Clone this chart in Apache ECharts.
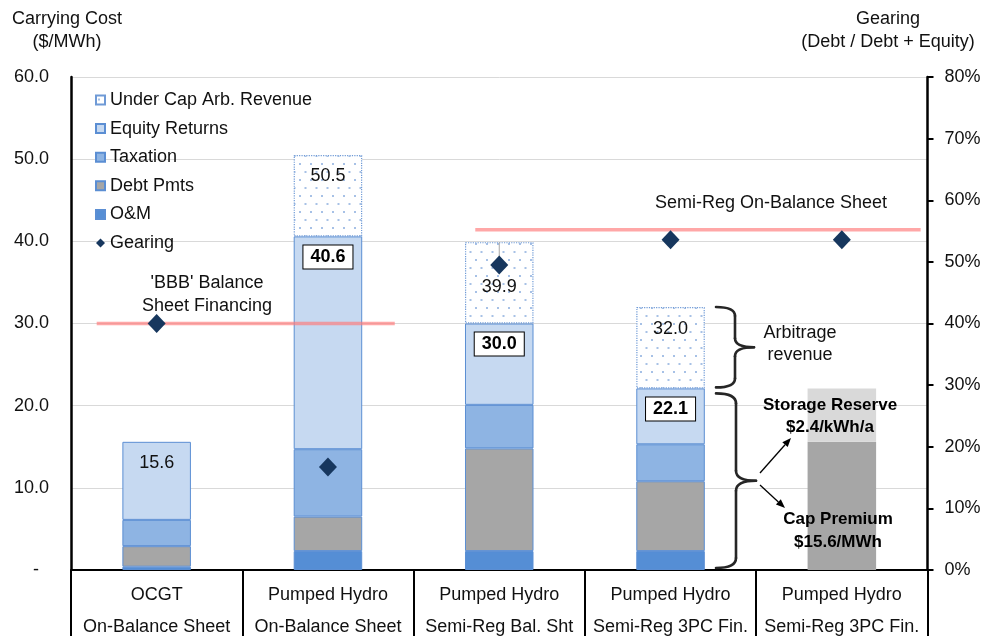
<!DOCTYPE html>
<html>
<head>
<meta charset="utf-8">
<script src="https://cdn.jsdelivr.net/npm/echarts@6/dist/echarts.min.js"></script>
<style>
  html, body { margin: 0; padding: 0; background: #fff; }
  #chart { width: 982px; height: 637px; }
</style>
</head>
<body>
<div id="chart"></div>
<script>
// ---- data ----
const categories = [
  'OCGT\nOn-Balance Sheet',
  'Pumped Hydro\nOn-Balance Sheet',
  'Pumped Hydro\nSemi-Reg Bal. Sht',
  'Pumped Hydro\nSemi-Reg 3PC Fin.',
  'Pumped Hydro\nSemi-Reg 3PC Fin.'
];
const omCost         = [0.4, 2.3, 2.3, 2.3, null];
const debtPmts       = [2.5, 4.2, 12.5, 8.5, null];
const taxation       = [3.2, 8.2, 5.3, 4.5, null];
const equityReturns  = [9.5, 25.9, 9.9, 6.8, null];
const underCapArb    = [null, 9.9, 9.9, 9.9, null];
const capPremium     = [null, null, null, null, 15.6];
const storageReserve = [null, null, null, null, 6.5];
const gearingPct     = [40, 16.7, 49.5, 53.6, 53.6];

// financing reference levels on the gearing axis: [x in category units, %]
const bbbLine     = [[0.15, 40], [1.89, 40]];
const semiRegLine = [[2.36, 55.2], [4.96, 55.2]];

const costTickLabels    = ['-  ', '10.0', '20.0', '30.0', '40.0', '50.0', '60.0'];
const gearingTickLabels = ['0%', '10%', '20%', '30%', '40%', '50%', '60%', '70%', '80%'];

// ---- helpers ----
const FONT = '"Liberation Sans", Arial, sans-serif';
const sum = (arrs, i) => arrs.reduce((s, a) => s + (a[i] || 0), 0);
const equityTop   = categories.map((_, i) => sum([omCost, debtPmts, taxation, equityReturns], i));
const underCapTop = categories.map((_, i) => sum([omCost, debtPmts, taxation, equityReturns, underCapArb], i));

function dotPattern() {
  const c = document.createElement('canvas');
  c.width = 11; c.height = 16;
  const g = c.getContext('2d');
  g.fillStyle = '#ffffff';
  g.fillRect(0, 0, 11, 16);
  g.fillStyle = '#A7C1E6';
  g.fillRect(2, 3, 2, 2);
  g.fillRect(7.5, 11, 2, 2);
  return c;
}

const segBorder = { borderColor: '#5B8ED3', borderWidth: 1 };
const plainLabel = { show: true, position: 'insideTop', fontFamily: FONT, fontSize: 18, color: '#111' };
const boxedLabel = {
  show: true, position: 'insideTop', distance: 9, fontFamily: FONT, fontSize: 18,
  fontWeight: 'bold', color: '#000', backgroundColor: '#fff', borderColor: '#000',
  borderWidth: 1, padding: [3, 7, 2, 7]
};

const equityData = equityReturns.map((v, i) => {
  if (v == null) return null;
  const lab = i === 0 ? Object.assign({}, plainLabel, { distance: 12 }) : boxedLabel;
  return { value: v, label: Object.assign({}, lab, { formatter: () => equityTop[i].toFixed(1) }) };
});
const underCapDistance = [0, 12, 36, 13, 0];
const underCapData = underCapArb.map((v, i) => {
  if (v == null) return null;
  return { value: v, label: Object.assign({}, plainLabel, {
    distance: underCapDistance[i], formatter: () => underCapTop[i].toFixed(1) }) };
});

const barCommon = { type: 'bar', stack: 'cost', barWidth: '40%', z: 2 };

const chart = echarts.init(document.getElementById('chart'), null, { renderer: 'canvas' });

const option = {
  animation: false,
  backgroundColor: '#fff',
  textStyle: { fontFamily: FONT },
  grid: { left: 71, right: 54.5, top: 77, bottom: 67, containLabel: false, outerBoundsMode: 'none' },
  legend: {
    orient: 'vertical', left: 90, top: 86, itemWidth: 9, itemHeight: 9, itemGap: 10.6,
    textStyle: { fontFamily: FONT, fontSize: 18, color: '#111', lineHeight: 18 },
    data: [
      { name: 'Under Cap Arb. Revenue', icon: 'rect' },
      { name: 'Equity Returns', icon: 'rect' },
      { name: 'Taxation', icon: 'rect' },
      { name: 'Debt Pmts', icon: 'rect' },
      { name: 'O&M', icon: 'rect' },
      { name: 'Gearing', icon: 'diamond' }
    ]
  },
  xAxis: [
    {
      type: 'category', data: categories, gridIndex: 0,
      axisLine: { show: true, lineStyle: { color: '#000', width: 2 } },
      axisTick: { show: true, length: 66, lineStyle: { color: '#000', width: 2 } },
      axisLabel: { interval: 0, margin: 9, fontFamily: FONT, fontSize: 18, lineHeight: 32, color: '#111' },
      splitLine: { show: false }
    },
    { type: 'value', min: 0, max: 5, show: false, gridIndex: 0 }
  ],
  yAxis: [
    {
      type: 'value', min: 0, max: 60, interval: 10, position: 'left',
      axisLine: { show: true, lineStyle: { color: '#000', width: 2.5 } },
      axisTick: { show: false },
      axisLabel: { margin: 22, fontFamily: FONT, fontSize: 18, color: '#111',
        formatter: v => costTickLabels[Math.round(v / 10)] },
      splitLine: { show: true, lineStyle: { color: '#D9D9D9', width: 1 } }
    },
    {
      type: 'value', min: 0, max: 80, interval: 10, position: 'right',
      axisLine: { show: true, lineStyle: { color: '#000', width: 2.5 } },
      axisTick: { show: true, inside: false, length: 6, lineStyle: { color: '#000', width: 2 } },
      axisLabel: { margin: 17, fontFamily: FONT, fontSize: 18, color: '#111',
        formatter: v => gearingTickLabels[Math.round(v / 10)] },
      splitLine: { show: false }
    }
  ],
  series: [
    Object.assign({}, barCommon, { name: 'O&M', data: omCost,
      itemStyle: Object.assign({ color: '#558ED5' }, segBorder) }),
    Object.assign({}, barCommon, { name: 'Debt Pmts', data: debtPmts,
      itemStyle: Object.assign({ color: '#A6A6A6' }, segBorder) }),
    Object.assign({}, barCommon, { name: 'Taxation', data: taxation,
      itemStyle: Object.assign({ color: '#8EB4E3' }, segBorder) }),
    Object.assign({}, barCommon, { name: 'Equity Returns', data: equityData,
      itemStyle: Object.assign({ color: '#C6D9F1' }, segBorder) }),
    Object.assign({}, barCommon, { name: 'Under Cap Arb. Revenue', data: underCapData,
      itemStyle: { color: { image: dotPattern(), repeat: 'repeat' }, borderColor: '#6F9AD6',
        borderWidth: 1.2, borderType: 'dotted' } }),
    Object.assign({}, barCommon, { name: 'Cap Premium', data: capPremium,
      itemStyle: { color: '#A6A6A6' } }),
    Object.assign({}, barCommon, { name: 'Storage Reserve', data: storageReserve,
      itemStyle: { color: '#D9D9D9' } }),
    {
      name: 'BBB Line', type: 'line', xAxisIndex: 1, yAxisIndex: 1, data: bbbLine,
      symbol: 'none', z: 3, silent: true,
      lineStyle: { color: 'rgba(255,120,120,0.65)', width: 3.5 }
    },
    {
      name: 'Semi-Reg Line', type: 'line', xAxisIndex: 1, yAxisIndex: 1, data: semiRegLine,
      symbol: 'none', z: 3, silent: true,
      lineStyle: { color: 'rgba(255,120,120,0.65)', width: 3.5 }
    },
    {
      name: 'Gearing', type: 'scatter', yAxisIndex: 1, data: gearingPct,
      symbol: 'diamond', symbolSize: [18, 19], z: 5,
      itemStyle: { color: '#17375E', opacity: 1 }
    }
  ]
};
chart.setOption(option);

// ---- annotations ----
const braceStyle = { stroke: '#262626', lineWidth: 2.6, lineCap: 'round', fill: null };
function brace(x, y1, y2, w, r) {
  const xm = x + w / 2, ym = (y1 + y2) / 2;
  const curve = (ax, ay, bx, by, cx, cy) => ({ type: 'bezierCurve', z: 4,
    shape: { x1: ax, y1: ay, x2: bx, y2: by, cpx1: cx, cpy1: cy }, style: braceStyle });
  const seg = (ax, ay, bx, by) => ({ type: 'line', z: 4,
    shape: { x1: ax, y1: ay, x2: bx, y2: by }, style: braceStyle });
  return [
    curve(x, y1, xm, y1 + r, xm, y1),
    seg(xm, y1 + r, xm, ym - r),
    curve(xm, ym - r, x + w, ym, xm, ym),
    curve(x + w, ym, xm, ym + r, xm, ym),
    seg(xm, ym + r, xm, y2 - r),
    curve(xm, y2 - r, x, y2, xm, y2)
  ];
}
function arrow(x1, y1, x2, y2) {
  const a = Math.atan2(y2 - y1, x2 - x1), L = 9, W = 3.6;
  const bx = x2 - L * Math.cos(a), by = y2 - L * Math.sin(a);
  const px = -Math.sin(a) * W, py = Math.cos(a) * W;
  return [
    { type: 'line', z: 4, shape: { x1: x1, y1: y1, x2: bx, y2: by }, style: { stroke: '#000', lineWidth: 1.3 } },
    { type: 'polygon', z: 4, shape: { points: [[x2, y2], [bx + px, by + py], [bx - px, by - py]] }, style: { fill: '#000' } }
  ];
}
function txt(text, x, y, opts) {
  return {
    type: 'text', z: 10,
    style: Object.assign({ text: text, x: x, y: y, align: 'center', verticalAlign: 'middle',
      font: '18px ' + FONT, fill: '#111', lineHeight: 23 }, opts || {})
  };
}

// leader from the top of the semi-reg bar down to its gearing marker
const p3Top = chart.convertToPixel({ xAxisIndex: 0, yAxisIndex: 0 }, [2, underCapTop[2]]);
const p3Gear = chart.convertToPixel({ xAxisIndex: 0, yAxisIndex: 1 }, [2, gearingPct[2]]);

// braces beside the 3PC bar
const b4Top = chart.convertToPixel({ xAxisIndex: 0, yAxisIndex: 0 }, [3, underCapTop[3]]);
const b4Mid = chart.convertToPixel({ xAxisIndex: 0, yAxisIndex: 0 }, [3, equityTop[3]]);
const b4Bot = chart.convertToPixel({ xAxisIndex: 0, yAxisIndex: 0 }, [3, 0]);

const graphics = [
  txt('Carrying Cost\n($/MWh)', 67, 31),
  txt('Gearing\n(Debt / Debt + Equity)', 888, 31),
  txt("'BBB' Balance\nSheet Financing", 207, 294.5),
  txt('Semi-Reg On-Balance Sheet', 771, 203),
  txt('Arbitrage\nrevenue', 800, 344, { lineHeight: 22 }),
  txt('Storage Reserve\n$2.4/kWh/a', 830, 416, { font: 'bold 17px ' + FONT, fill: '#000', lineHeight: 22 }),
  txt('Cap Premium\n$15.6/MWh', 838, 531, { font: 'bold 17px ' + FONT, fill: '#000', lineHeight: 23 }),
  { type: 'line', z: 4, shape: { x1: p3Top[0], y1: p3Top[1], x2: p3Gear[0], y2: p3Gear[1] - 6 },
    style: { stroke: '#A6A6A6', lineWidth: 1 } }
]
  .concat(brace(716, b4Top[1], b4Mid[1] - 1, 38, 9))
  .concat(brace(716, b4Mid[1] + 5, b4Bot[1] - 2, 40, 10))
  .concat(arrow(760, 473, 791, 438), arrow(760, 485, 785, 508));

chart.setOption({ graphic: { elements: graphics } });
</script>
</body>
</html>
